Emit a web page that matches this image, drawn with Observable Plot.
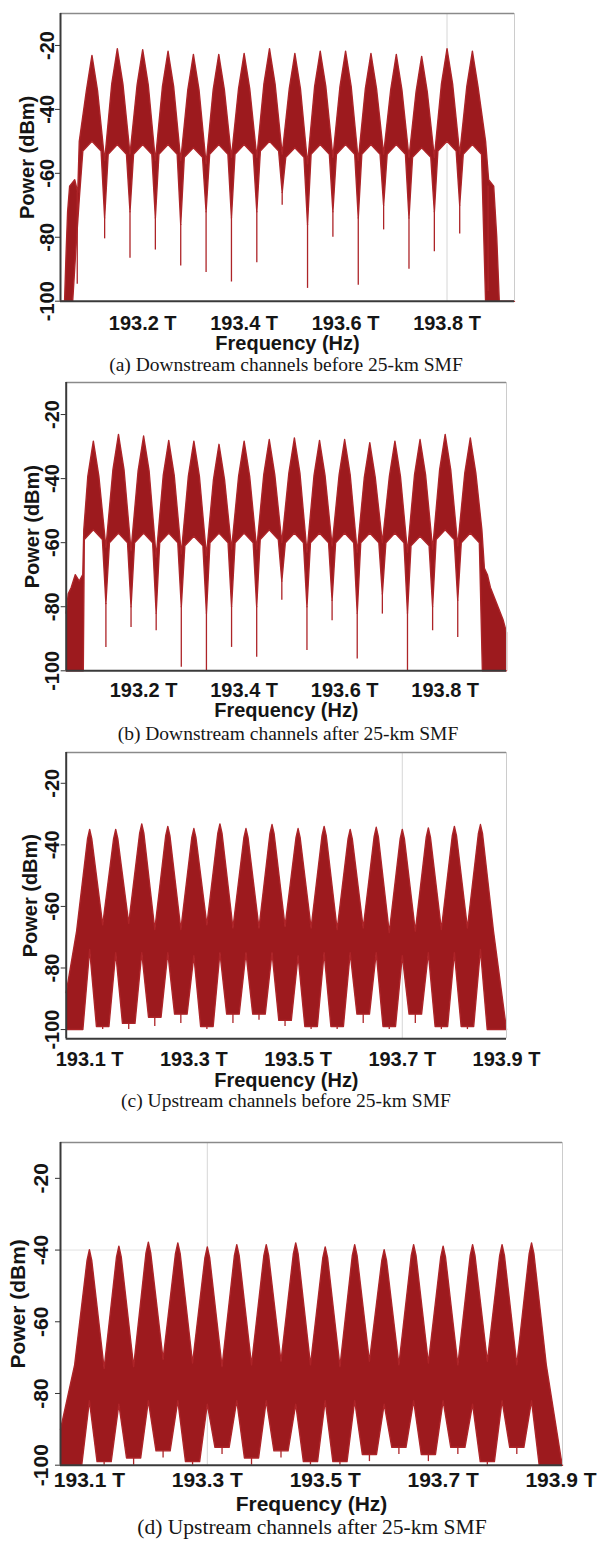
<!DOCTYPE html>
<html><head><meta charset="utf-8">
<script src="https://cdn.jsdelivr.net/npm/d3@7"></script>
<script src="https://cdn.jsdelivr.net/npm/@observablehq/plot@0.6"></script>
<style>
html,body{margin:0;padding:0;background:#fff;}
#page{position:relative;width:603px;height:1549px;overflow:hidden;background:#fff;}
.panel{position:absolute;left:0;}
.panel svg{overflow:visible;}
.cap{position:absolute;width:603px;text-align:center;font-family:"Liberation Serif","Times New Roman",serif;white-space:nowrap;line-height:1;color:#161616;}
</style></head><body><div id="page"></div>
<script>
// ---------- data ----------
const channelTHz = [193.10,193.15,193.20,193.25,193.30,193.35,193.40,193.45,193.50,193.55,193.60,193.65,193.70,193.75,193.80,193.85];
const yTicks = [-20,-40,-60,-80,-100];
const xTicksDown = [193.2,193.4,193.6,193.8];
const xTicksUp = [193.1,193.3,193.5,193.7,193.9];
const captions = ["(a) Downstream channels before 25-km SMF","(b) Downstream channels after 25-km SMF","(c) Upstream channels before 25-km SMF","(d) Upstream channels after 25-km SMF"];

// (a) downstream before SMF
const peakA   = [-23.1,-21.0,-21.3,-21.8,-22.8,-22.8,-22.5,-21.0,-22.5,-21.8,-21.8,-22.5,-22.8,-23.4,-21.0,-21.8];
const valleyA = [-56,-54,-56,-56,-57,-55,-55,-54,-57,-55,-56,-54,-55,-55,-54];
const floorA  = [-74,-72,-74,-76,-72,-74,-72,-66,-76,-72,-74,-70,-74,-72,-70];
const notchA  = [-80.5,-86.6,-84,-89,-91,-94,-88,-70,-96,-80,-95,-77.7,-90,-84.5,-79];
const innerA  = [-50,-51,-51,-51,-52,-51,-51,-50,-52,-51,-51,-51,-51,-52,-50,-51];
const leftUpperA  = [[193.038,-100],[193.046,-100],[193.049,-85],[193.052,-72],[193.056,-64],[193.066,-62],[193.072,-66],[193.075,-50]];
const leftLowerA  = [[193.038,-100],[193.062,-100],[193.069,-82],[193.075,-68]];
const rightUpperA = [[193.876,-50],[193.882,-62],[193.892,-64],[193.898,-80],[193.903,-100],[193.933,-100]];
const rightLowerA = [[193.876,-100],[193.933,-100]];
const edgeNotchA  = [[193.071,-66,-94.7],[193.881,-64,-97]];

// (b) downstream after SMF
const peakB   = [-28.3,-26.2,-26.7,-28.1,-28.3,-29.3,-28.3,-27.8,-27.3,-28.1,-27.8,-28.8,-28.3,-27.8,-26.2,-27.3];
const valleyB = [-61.5,-62.5,-64.5,-63.5,-64,-62,-62,-60,-63,-61,-63,-60,-63,-62,-61];
const floorB  = [-79,-80,-82,-80,-82,-80,-80,-72,-80,-78,-82,-76,-82,-80,-78];
const notchB  = [-92.7,-86.5,-87.5,-98.9,-100,-92.7,-95.8,-78,-93.7,-84.4,-96.3,-82.3,-100,-87.5,-89.6];
const innerB  = [-56,-57,-57,-57,-58,-57,-57,-56,-57,-57,-57,-57,-57,-58,-56,-57];
const leftUpperB  = [[193.046,-82],[193.05,-76],[193.056,-74],[193.064,-70],[193.072,-72],[193.079,-70],[193.081,-56]];
const leftLowerB  = [[193.046,-100],[193.08,-100]];
const rightUpperB = [[193.873,-56],[193.878,-68],[193.884,-70],[193.89,-74],[193.9,-78],[193.915,-84],[193.922,-88]];
const rightLowerB = [[193.874,-100],[193.922,-100]];
const edgeNotchB  = [];

// (c) upstream before SMF
const peakC   = [-35,-35,-33.2,-34,-34.7,-33.2,-34.7,-33.4,-34.7,-34,-35,-34.3,-35,-34.5,-34,-33.4];
const valleyC = [-66,-65.5,-67.5,-67.5,-66,-67,-67,-66.5,-67,-67.5,-67,-68.5,-68,-67.5,-67];
const floorC  = [-99,-98,-96,-95,-99,-95,-95,-97,-99,-99,-95,-99,-95,-99,-99];
const notchC  = [-100,-100,-99,-98,-100,-98,-97,-99,-100,-100,-98,-100,-98,-100,-100];
const innerC  = [-74,-75,-75,-75,-76,-75,-75,-75,-76,-75,-75,-75,-76,-75,-75,-74];
const leftUpperC  = [[193.055,-88],[193.075,-68]];
const leftLowerC  = [[193.055,-100],[193.075,-100]];
const rightUpperC = [[193.875,-68],[193.9,-100]];
const rightLowerC = [[193.875,-100]];
const edgeNotchC  = [];

// (d) upstream after SMF
const peakD   = [-39.9,-38.9,-37.8,-38,-39.1,-38.5,-38.5,-38,-39.1,-38.5,-39.9,-38.5,-38.9,-38.5,-38.5,-38];
const valleyD = [-73,-72.5,-70.5,-71.5,-72.5,-72,-71,-72,-72.5,-71,-72,-71.5,-72,-71,-72];
const floorD  = [-99,-98,-96,-99,-95,-98,-96,-99,-99,-97,-95,-97,-95,-99,-95];
const notchD  = [-100,-100,-98,-100,-97,-100,-98,-100,-100,-99,-97,-99,-97,-100,-97];
const innerD  = [-82,-83,-82,-82,-83,-82,-82,-83,-82,-82,-83,-82,-82,-83,-82,-82];
const leftUpperD  = [[193.051,-90],[193.075,-72]];
const leftLowerD  = [[193.051,-100],[193.075,-100]];
const rightUpperD = [[193.875,-72],[193.9,-98],[193.9025,-100]];
const rightLowerD = [[193.875,-100]];
const edgeNotchD  = [];

// ---------- rendering ----------
const FILL = "#9d1a1e", EDGE = "#ad2428";
const SANS = '"Liberation Sans", Arial, Helvetica, sans-serif';

function buildPoly(c) {
  const n = channelTHz.length;
  const up = c.leftUpper.map(([f, db]) => ({f, db}));
  const lo = c.leftLower.map(([f, db]) => ({f, db}));
  channelTHz.forEach((f, i) => {
    const p = c.peak[i];
    const left = c.dome.slice().reverse().map(([o, d]) => ({f: f - o, db: p - d}));
    const right = c.dome.map(([o, d]) => ({f: f + o, db: p - d}));
    up.push(...left, {f, db: p}, ...right);
    if (c.flankToFloor) {
      lo.push({f: f - c.flankAt, db: i > 0 ? c.floor[i - 1] : -100});
      lo.push({f, db: c.inner[i]});
      lo.push({f: f + c.flankAt, db: i < n - 1 ? c.floor[i] : -100});
    } else {
      lo.push({f: f - c.flankAt, db: c.inner[i] - c.flankDrop});
      lo.push({f, db: c.inner[i]});
      lo.push({f: f + c.flankAt, db: c.inner[i] - c.flankDrop});
    }
    if (i < n - 1) {
      const mid = (f + channelTHz[i + 1]) / 2;
      up.push({f: mid, db: c.valley[i]});
      lo.push({f: mid, db: c.floor[i]});
    }
  });
  c.rightUpper.forEach(([f, db]) => up.push({f, db}));
  c.rightLower.forEach(([f, db]) => lo.push({f, db}));
  return up.concat(lo.reverse());
}

// dome: [offset from channel centre (THz), drop below the apex (dB)]
const domeDown = [[0.003, 3], [0.011, 11]];
const domeUp = [[0.004, 3]];

const panels = [
  {peak: peakA, valley: valleyA, floor: floorA, notch: notchA, inner: innerA, leftUpper: leftUpperA, leftLower: leftLowerA, rightUpper: rightUpperA, rightLower: rightLowerA, edgeNotch: edgeNotchA,
   xDomain: [193.038, 193.933], yDomain: [-100, -10], xTicks: xTicksDown, gridX: [193.8], gridY: [],
   left: 60, right: 514, top: 13.3, bottom: 301, font: 20, xPad: 15, yLabDx: -7, powerDx: -27, freqDy: 49,
   dome: domeDown, flankAt: 0.018, flankDrop: 3, flankToFloor: false, capBase: 371, capX: 286, capSize: 19.5},
  {peak: peakB, valley: valleyB, floor: floorB, notch: notchB, inner: innerB, leftUpper: leftUpperB, leftLower: leftLowerB, rightUpper: rightUpperB, rightLower: rightLowerB, edgeNotch: edgeNotchB,
   xDomain: [193.046, 193.922], yDomain: [-100, -10], xTicks: xTicksDown, gridX: [], gridY: [],
   left: 65.7, right: 506, top: 381.7, bottom: 670, font: 20, xPad: 12, yLabDx: -7.5, powerDx: -27, freqDy: 46,
   dome: domeDown, flankAt: 0.018, flankDrop: 3, flankToFloor: false, capBase: 740, capX: 288, capSize: 19.5},
  {peak: peakC, valley: valleyC, floor: floorC, notch: notchC, inner: innerC, leftUpper: leftUpperC, leftLower: leftLowerC, rightUpper: rightUpperC, rightLower: rightLowerC, edgeNotch: edgeNotchC,
   xDomain: [193.055, 193.9], yDomain: [-103, -10], xTicks: xTicksUp, gridX: [193.7], gridY: [],
   left: 65.7, right: 506, top: 751.7, bottom: 1038, font: 20, xPad: 13, yLabDx: -7.5, powerDx: -29, freqDy: 48,
   dome: domeUp, flankAt: 0.013, flankDrop: 0, flankToFloor: true, capBase: 1107, capX: 286, capSize: 19.5},
  {peak: peakD, valley: valleyD, floor: floorD, notch: notchD, inner: innerD, leftUpper: leftUpperD, leftLower: leftLowerD, rightUpper: rightUpperD, rightLower: rightLowerD, edgeNotch: edgeNotchD,
   xDomain: [193.051, 193.9025], yDomain: [-100, -10], xTicks: xTicksUp, gridX: [193.3], gridY: [-40],
   left: 60, right: 562, top: 1142.3, bottom: 1465, font: 21, xPad: 7, yLabDx: -13, powerDx: -36, freqDy: 46,
   dome: domeUp, flankAt: 0.013, flankDrop: 0, flankToFloor: true, capBase: 1535, capX: 312, capSize: 21.5}
];

const page = document.getElementById("page");
const MT = 10, MB = 62;
panels.forEach((c, k) => {
  const poly = buildPoly(c);
  const notches = c.notch.map((n, i) => ({f: (channelTHz[i] + channelTHz[i + 1]) / 2, y1: c.floor[i], y2: n}))
    .concat(c.edgeNotch.map(([f, a, b]) => ({f, y1: a, y2: b})));
  const svg = Plot.plot({
    width: 603, height: (c.bottom - c.top) + MT + MB,
    marginLeft: c.left, marginRight: 603 - c.right, marginTop: MT, marginBottom: MB,
    x: {domain: c.xDomain, axis: null},
    y: {domain: c.yDomain, axis: null},
    style: {fontFamily: SANS, fontSize: c.font + "px", fontWeight: "bold", color: "#151515", background: "transparent", overflow: "visible"},
    marks: [
      Plot.ruleX(c.gridX, {stroke: "#d6d6d6", strokeWidth: 1}),
      Plot.ruleY(c.gridY, {stroke: "#e2e2e2", strokeWidth: 1}),
      Plot.line(poly, {x: "f", y: "db", fill: FILL, stroke: EDGE, strokeWidth: 1.4, curve: "linear"}),
      Plot.ruleX(notches, {x: "f", y1: "y1", y2: "y2", stroke: EDGE, strokeWidth: 1.3}),
      Plot.ruleY([c.yDomain[1]], {stroke: "#8a8a8a", strokeWidth: 1.5}),
      Plot.ruleX([c.xDomain[1]], {stroke: "#cccccc", strokeWidth: 1}),
      Plot.ruleX([c.xDomain[0]], {stroke: "#3a3a3a", strokeWidth: 2}),
      Plot.ruleY([c.yDomain[0]], {stroke: "#3a3a3a", strokeWidth: 2}),
      Plot.axisY({ticks: yTicks, tickSize: 5, tickFormat: () => "", label: null, stroke: "#333"}),
      Plot.axisX({ticks: c.xTicks, tickSize: 0, tickPadding: c.xPad, tickFormat: d => d.toFixed(1) + " T", label: null}),
      Plot.text(yTicks, {y: d => d, text: d => String(d), frameAnchor: "left", dx: c.yLabDx, rotate: -90, textAnchor: "middle", lineAnchor: "bottom"}),
      Plot.text(["Power (dBm)"], {text: d => d, frameAnchor: "left", dx: c.powerDx, rotate: -90, textAnchor: "middle", lineAnchor: "bottom"}),
      Plot.text(["Frequency (Hz)"], {text: d => d, frameAnchor: "bottom", dy: c.freqDy, lineAnchor: "bottom"})
    ]
  });
  const wrap = document.createElement("div");
  wrap.className = "panel";
  wrap.style.top = (c.top - MT) + "px";
  wrap.appendChild(svg);
  page.appendChild(wrap);

  const cap = document.createElement("div");
  cap.className = "cap";
  cap.style.fontSize = c.capSize + "px";
  cap.style.left = (c.capX - 301.5) + "px";
  cap.style.top = (c.capBase - 0.8375 * c.capSize) + "px";
  cap.textContent = captions[k];
  page.appendChild(cap);
});
</script></body></html>
